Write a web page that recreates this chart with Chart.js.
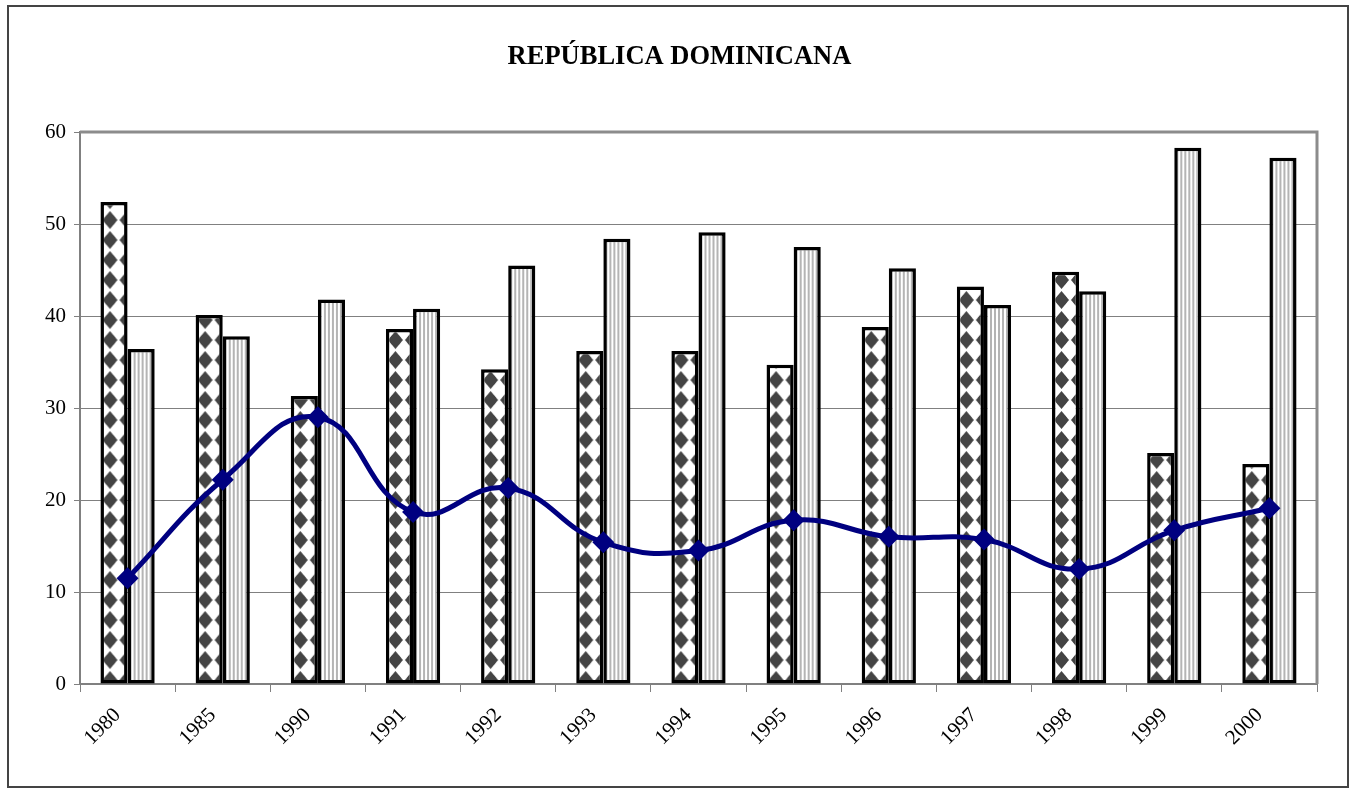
<!DOCTYPE html>
<html><head><meta charset="utf-8">
<script src="https://cdn.jsdelivr.net/npm/chart.js@4.4.0/dist/chart.umd.min.js"></script>
<style>
html,body{margin:0;padding:0;background:#fff;}
#wrap{position:relative;width:1351px;height:790px;}
#frame{position:absolute;left:7px;top:5px;width:1342px;height:783px;border:2px solid #444;box-sizing:border-box;pointer-events:none;}
canvas{display:block;}
</style></head><body>
<div id="wrap"><canvas id="c" width="1351" height="790"></canvas><div id="frame"></div></div>
<script>
const categories = ['1980','1985','1990','1991','1992','1993','1994','1995','1996','1997','1998','1999','2000'];
const seriesDots = [52.4, 40.1, 31.3, 38.6, 34.2, 36.2, 36.2, 34.7, 38.8, 43.2, 44.8, 25.1, 23.9];
const seriesStripes = [36.4, 37.8, 41.8, 40.8, 45.5, 48.4, 49.1, 47.5, 45.2, 41.2, 42.7, 58.3, 57.2];
const seriesLine = [11.5, 22.2, 29.0, 18.7, 21.3, 15.4, 14.5, 17.8, 16.0, 15.7, 12.5, 16.7, 19.1];
const yTicks = [0, 10, 20, 30, 40, 50, 60];
const chartTitle = 'REPÚBLICA DOMINICANA';

const CAT_PCT = 0.57;
const FONT = 'Liberation Serif, Times New Roman, serif';

function dotCanvas() {
  const c = document.createElement('canvas');
  c.width = 17; c.height = 20;
  const g = c.getContext('2d');
  g.fillStyle = '#fff'; g.fillRect(0, 0, 17, 20);
  g.fillStyle = '#444';
  const cx = 8.5, cy = 10;
  g.beginPath();
  g.moveTo(cx, cy - 9); g.lineTo(cx + 7.5, cy); g.lineTo(cx, cy + 9); g.lineTo(cx - 7.5, cy); g.closePath();
  g.fill();
  g.beginPath(); g.arc(cx, cy, 5.5, 0, Math.PI * 2); g.fill();
  return c;
}
function stripeCanvas() {
  const c = document.createElement('canvas');
  c.width = 4; c.height = 4;
  const g = c.getContext('2d');
  g.fillStyle = '#fff'; g.fillRect(0, 0, 4, 4);
  g.fillStyle = '#b4b4b4'; g.fillRect(1, 0, 2, 4);
  return c;
}
const dotC = dotCanvas(), stripeC = stripeCanvas();

function patternFor(ctx, which) {
  const chart = ctx.chart;
  const xs = chart.scales && chart.scales.x;
  if (!xs || !xs.width || ctx.type !== 'data') return which === 0 ? '#666' : '#ccc';
  const center = xs.getPixelForValue(ctx.dataIndex);
  const catW = xs.width / categories.length;
  const barW = catW * CAT_PCT / 2;
  const left = which === 0 ? center - barW : center;
  const p = chart.ctx.createPattern(which === 0 ? dotC : stripeC, 'repeat');
  const bottom = chart.chartArea ? chart.chartArea.bottom : 684;
  p.setTransform(new DOMMatrix([1, 0, 0, 1, left + 1, bottom - 14]));
  return p;
}

const plotFrame = {
  id: 'plotFrame',
  beforeDatasetsDraw(chart) {
    const a = chart.chartArea, g = chart.ctx;
    g.save();
    g.strokeStyle = '#8c8c8c';
    g.lineWidth = 3;
    g.beginPath();
    g.moveTo(a.left, a.top);
    g.lineTo(a.right, a.top);
    g.lineTo(a.right, a.bottom);
    g.stroke();
    g.restore();
  }
};

new Chart(document.getElementById('c'), {
  data: {
    labels: categories,
    datasets: [
      {
        type: 'line', data: seriesLine, order: 0,
        borderColor: '#000080', borderWidth: 5, tension: 0.45,
        pointStyle: 'rectRot', pointRadius: 11, pointBackgroundColor: '#000080', pointBorderColor: '#000080', pointBorderWidth: 0
      },
      {
        type: 'bar', data: seriesDots, order: 1,
        backgroundColor: (c) => patternFor(c, 0),
        borderColor: '#000', borderWidth: 3.5, borderSkipped: false,
        categoryPercentage: CAT_PCT, barPercentage: 1
      },
      {
        type: 'bar', data: seriesStripes, order: 1,
        backgroundColor: (c) => patternFor(c, 1),
        borderColor: '#000', borderWidth: 3.5, borderSkipped: false,
        categoryPercentage: CAT_PCT, barPercentage: 1
      }
    ]
  },
  options: {
    responsive: false,
    animation: false,
    devicePixelRatio: 1,
    layout: { padding: { left: 8, right: 0, top: 0, bottom: 0 } },
    plugins: {
      legend: { display: false },
      tooltip: { enabled: false },
      title: {
        display: true, text: chartTitle, color: '#000',
        font: { family: FONT, size: 26.5, weight: 'bold' },
        padding: { top: 41, bottom: 59.2 }
      }
    },
    scales: {
      x: {
        offset: true,
        grid: { display: true, drawOnChartArea: false, offset: true, tickLength: 8, color: '#808080', lineWidth: 1 },
        border: { color: '#808080', width: 2 },
        ticks: { minRotation: 45, maxRotation: 45, color: '#000', font: { family: FONT, size: 21 }, padding: 11, labelOffset: -10 },
        afterFit: (s) => { s.height = 106; s.paddingRight = 34; }
      },
      y: {
        min: 0, max: 60,
        afterBuildTicks: (s) => { s.ticks = yTicks.map(v => ({ value: v })); },
        grid: { color: '#808080', lineWidth: 1, tickLength: 6 },
        border: { color: '#808080', width: 2 },
        ticks: { color: '#000', font: { family: FONT, size: 21 }, padding: 8 },
        afterFit: (s) => { s.width = 72; }
      }
    }
  },
  plugins: [plotFrame]
});
</script>
</body></html>
